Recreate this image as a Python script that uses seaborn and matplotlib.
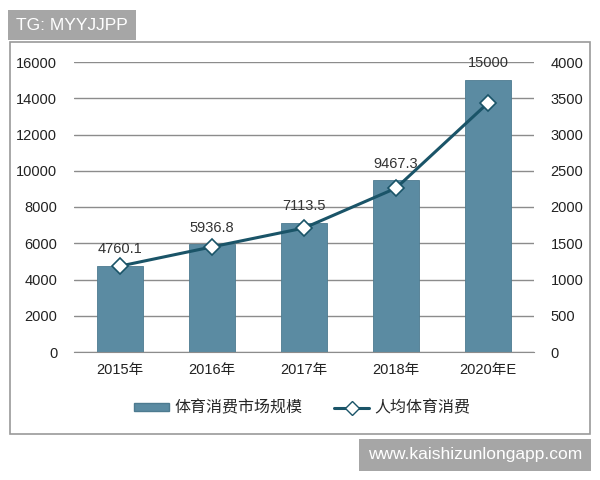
import matplotlib
matplotlib.use("Agg")
import matplotlib.pyplot as plt
import seaborn as sns
from matplotlib.lines import Line2D
from matplotlib.patches import Rectangle, Patch

# Data
years = ["2015年", "2016年", "2017年", "2018年", "2020年E"]
market_size = [4760.1, 5936.8, 7113.5, 9467.3, 15000]
per_capita = [1185, 1450, 1710, 2260, 3435]
bar_labels = ["4760.1", "5936.8", "7113.5", "9467.3", "15000"]

bar_color = "#5b8ba2"
line_color = "#1a5468"

sns.set_style("white")
plt.rcParams["font.family"] = ["Liberation Sans", "Noto Sans CJK SC", "DejaVu Sans"]

fig = plt.figure(figsize=(6, 4.8), dpi=100)
ax = fig.add_axes([74 / 600, 1 - 352 / 480, 460 / 600, 290 / 480])

sns.barplot(x=years, y=market_size, color=bar_color, width=0.49,
            saturation=1, ax=ax, zorder=2, edgecolor="#4d7b90", linewidth=0.6)
ax.set_ylim(0, 16000)
ax.set_yticks(range(0, 16001, 2000))
ax.set_xlim(-0.5, 4.5)
ax.yaxis.grid(True, color="#8c8c8c", lw=1)
ax.set_axisbelow(True)
for s in ["top", "right", "left"]:
    ax.spines[s].set_visible(False)
ax.spines["bottom"].set_color("#8c8c8c")
ax.tick_params(axis="both", length=0, labelsize=10.5, colors="#222222")
ax.tick_params(axis="x", pad=8)
ax.tick_params(axis="y", pad=12)

for i, (v, t) in enumerate(zip(market_size, bar_labels)):
    ax.annotate(t, (i, v), xytext=(0, 7), textcoords="offset points",
                ha="center", va="bottom", fontsize=10.5, color="#333333")

ax2 = ax.twinx()
sns.lineplot(x=years, y=per_capita, ax=ax2, color=line_color, lw=2.2,
             marker="D", markersize=8, markerfacecolor="white",
             markeredgecolor=line_color, markeredgewidth=1.2, zorder=3)
ax2.set_ylim(0, 4000)
ax2.set_yticks(range(0, 4001, 500))
ax2.set_xlim(-0.5, 4.5)
for s in ["top", "right", "left", "bottom"]:
    ax2.spines[s].set_visible(False)
ax2.tick_params(axis="y", length=0, labelsize=10.5, colors="#222222", pad=12)
ax2.set_ylabel("")
ax.set_ylabel("")

handles = [
    Patch(facecolor=bar_color, edgecolor="#4d7b90"),
    Line2D([0], [0], color=line_color, lw=2.2, marker="D", markersize=7,
           markerfacecolor="white", markeredgecolor=line_color),
]
fig.legend(handles, ["体育消费市场规模", "人均体育消费"], loc="center",
           bbox_to_anchor=(302 / 600, 1 - 408 / 480), ncol=2, frameon=False,
           fontsize=11.5, handlelength=2.2, handleheight=0.35,
           handletextpad=0.3, columnspacing=2.0)

# outer frame
fig.patches.append(Rectangle((10 / 600, 1 - 434 / 480), 580 / 600, 392 / 480,
                             transform=fig.transFigure, fill=False,
                             edgecolor="#9a9a9a", lw=1.2))

# watermark boxes
fig.text(16 / 600, 1 - 25 / 480, "TG: MYYJJPP", ha="left", va="center",
         fontsize=12.5, color="white",
         bbox=dict(boxstyle="square,pad=0.45", fc="#a6a6a6", ec="none"))
fig.text(582 / 600, 1 - 455 / 480, "www.kaishizunlongapp.com", ha="right",
         va="center", fontsize=12.5, color="white",
         bbox=dict(boxstyle="square,pad=0.5", fc="#a6a6a6", ec="none"))

fig.savefig("out.png", dpi=100)
